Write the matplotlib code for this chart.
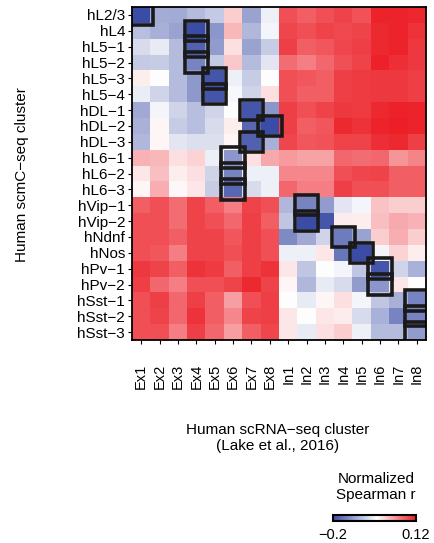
import numpy as np
import matplotlib
matplotlib.use("Agg")
import matplotlib.pyplot as plt
from matplotlib.colors import LinearSegmentedColormap
from matplotlib.patches import Rectangle

plt.rcParams['font.family'] = ['Liberation Sans', 'DejaVu Sans']

rows = ["hL2/3", "hL4", "hL5\u22121", "hL5\u22122", "hL5\u22123", "hL5\u22124",
        "hDL\u22121", "hDL\u22122", "hDL\u22123", "hL6\u22121", "hL6\u22122", "hL6\u22123",
        "hVip\u22121", "hVip\u22122", "hNdnf", "hNos", "hPv\u22121", "hPv\u22122",
        "hSst\u22121", "hSst\u22122", "hSst\u22123"]
cols = ["Ex1", "Ex2", "Ex3", "Ex4", "Ex5", "Ex6", "Ex7", "Ex8",
        "In1", "In2", "In3", "In4", "In5", "In6", "In7", "In8"]

r_L23  = [-0.200, -0.108, -0.110, -0.095, -0.081, 0.002, -0.117, -0.045, 0.086, 0.075, 0.086, 0.093, 0.083, 0.114, 0.114, 0.112]
r_L4   = [-0.091, -0.105, -0.117, -0.200, -0.130, 0.017, -0.098, -0.039, 0.092, 0.086, 0.093, 0.089, 0.093, 0.111, 0.114, 0.104]
r_L51  = [-0.064, -0.050, -0.095, -0.180, -0.125, -0.009, -0.117, -0.078, 0.096, 0.075, 0.080, 0.092, 0.096, 0.111, 0.114, 0.101]
r_L52  = [-0.081, -0.078, -0.095, -0.146, -0.081, 0.005, -0.095, -0.054, 0.065, 0.054, 0.069, 0.086, 0.093, 0.115, 0.107, 0.101]
r_L53  = [-0.020, -0.030, -0.095, -0.127, -0.190, -0.045, -0.078, -0.030, 0.086, 0.080, 0.075, 0.096, 0.099, 0.101, 0.101, 0.096]
r_L54  = [-0.047, -0.071, -0.095, -0.127, -0.190, -0.037, -0.071, -0.009, 0.086, 0.075, 0.075, 0.096, 0.099, 0.101, 0.101, 0.096]
r_DL1  = [-0.112, -0.039, -0.071, -0.091, -0.071, -0.030, -0.190, -0.130, 0.096, 0.086, 0.093, 0.101, 0.099, 0.111, 0.116, 0.114]
r_DL2  = [-0.103, -0.024, -0.078, -0.091, -0.064, -0.020, -0.173, -0.200, 0.096, 0.075, 0.080, 0.111, 0.104, 0.114, 0.117, 0.114]
r_DL3  = [-0.098, -0.024, -0.054, -0.061, -0.061, -0.024, -0.180, -0.105, 0.092, 0.080, 0.083, 0.093, 0.093, 0.107, 0.111, 0.096]
r_L61  = [0.020, 0.017, -0.009, -0.002, -0.045, -0.130, -0.009, 0.027, 0.036, 0.030, 0.030, 0.069, 0.065, 0.069, 0.039, 0.050]
r_L62  = [-0.014, 0.012, -0.020, -0.009, -0.071, -0.146, -0.045, -0.044, 0.048, 0.048, 0.048, 0.086, 0.092, 0.093, 0.075, 0.075]
r_L63  = [-0.024, 0.023, -0.026, -0.014, -0.078, -0.173, -0.064, -0.044, 0.069, 0.054, 0.054, 0.096, 0.086, 0.086, 0.075, 0.075]
r_Vip1 = [0.075, 0.086, 0.065, 0.093, 0.075, 0.054, 0.093, 0.086, -0.098, -0.146, -0.125, -0.054, -0.039, 0.009, 0.002, 0.002]
r_Vip2 = [0.086, 0.086, 0.065, 0.093, 0.086, 0.069, 0.096, 0.075, -0.084, -0.200, -0.190, -0.018, -0.020, 0.012, 0.026, 0.020]
r_Ndnf = [0.086, 0.086, 0.075, 0.093, 0.093, 0.080, 0.096, 0.086, -0.141, -0.112, -0.071, -0.154, -0.117, 0.002, 0.023, 0.002]
r_Nos  = [0.086, 0.080, 0.054, 0.093, 0.093, 0.086, 0.096, 0.086, -0.044, -0.044, -0.014, -0.159, -0.200, -0.039, -0.002, -0.020]
r_Pv1  = [0.101, 0.093, 0.075, 0.104, 0.099, 0.075, 0.096, 0.104, -0.014, -0.084, -0.030, -0.039, -0.084, -0.190, -0.071, -0.103]
r_Pv2  = [0.096, 0.069, 0.054, 0.086, 0.086, 0.093, 0.111, 0.093, -0.024, -0.098, -0.050, -0.064, -0.125, -0.130, -0.014, -0.030]
r_Sst1 = [0.086, 0.096, 0.069, 0.096, 0.075, 0.033, 0.086, 0.096, -0.030, -0.050, -0.024, -0.009, -0.039, -0.084, -0.105, -0.146]
r_Sst2 = [0.086, 0.093, 0.069, 0.104, 0.075, 0.048, 0.093, 0.096, -0.014, -0.030, -0.014, -0.018, -0.064, -0.103, -0.146, -0.146]
r_Sst3 = [0.086, 0.086, 0.054, 0.096, 0.069, 0.033, 0.075, 0.092, -0.014, -0.050, -0.009, 0.002, -0.044, -0.095, -0.095, -0.125]

# best-matching column for each row (boxed cells)
best_match = ["Ex1", "Ex4", "Ex4", "Ex4", "Ex5", "Ex5", "Ex7", "Ex8", "Ex7",
              "Ex6", "Ex6", "Ex6", "In2", "In2", "In4", "In5", "In6", "In6",
              "In8", "In8", "In8"]

vmin, vmax = -0.2, 0.12

data = np.array([r_L23, r_L4, r_L51, r_L52, r_L53, r_L54, r_DL1, r_DL2, r_DL3,
                 r_L61, r_L62, r_L63, r_Vip1, r_Vip2, r_Ndnf, r_Nos, r_Pv1,
                 r_Pv2, r_Sst1, r_Sst2, r_Sst3])

cmap = LinearSegmentedColormap.from_list(
    "bwr_custom", [(0.0, "#3a4ca5"), (0.53, "#ffffff"), (1.0, "#ec1c24")])

fig = plt.figure(figsize=(4.34, 5.43), dpi=100)
ax = fig.add_axes([132/434, 1-340/543, (426-132)/434, (340-7)/543])
im = ax.imshow(data, cmap=cmap, vmin=vmin, vmax=vmax, aspect='auto',
               interpolation='nearest')

pad = 0.14
for i, c in enumerate(best_match):
    j = cols.index(c)
    ax.add_patch(Rectangle((j - 0.5 - pad, i - 0.5 - pad), 1 + 2*pad, 1 + 2*pad,
                           fill=False, edgecolor="#1a1a1a", lw=2.6, clip_on=True))

ax.set_xticks(range(len(cols)))
ax.set_xticklabels(cols, rotation=90, fontsize=10.5)
ax.set_yticks(range(len(rows)))
ax.set_yticklabels(rows, fontsize=11)
ax.tick_params(length=3, width=0.8, pad=2)
ax.tick_params(axis='x', pad=14)
for s in ax.spines.values():
    s.set_linewidth(1.3)
ax.set_xlim(-0.5, len(cols) - 0.5)
ax.set_ylim(len(rows) - 0.5, -0.5)

fig.text(22/434, 1-175/543, "Human scmC\u2212seq cluster", rotation=90,
         ha='center', va='center', fontsize=11)
fig.text(278/434, 1-438/543, "Human scRNA\u2212seq cluster\n(Lake et al., 2016)",
         ha='center', va='center', fontsize=11, linespacing=1.25)
fig.text(376/434, 1-487/543, "Normalized\nSpearman r", ha='center', va='center',
         fontsize=11, linespacing=1.25)

cax = fig.add_axes([333/434, 1-521/543, (416-333)/434, 6/543])
cb = fig.colorbar(im, cax=cax, orientation='horizontal')
cb.set_ticks([vmin, vmax])
cb.set_ticklabels(["\u22120.2", "0.12"])
cb.ax.tick_params(length=0, labelsize=10.5, pad=5)
cb.outline.set_linewidth(1.5)

fig.savefig("out.png", dpi=100)
